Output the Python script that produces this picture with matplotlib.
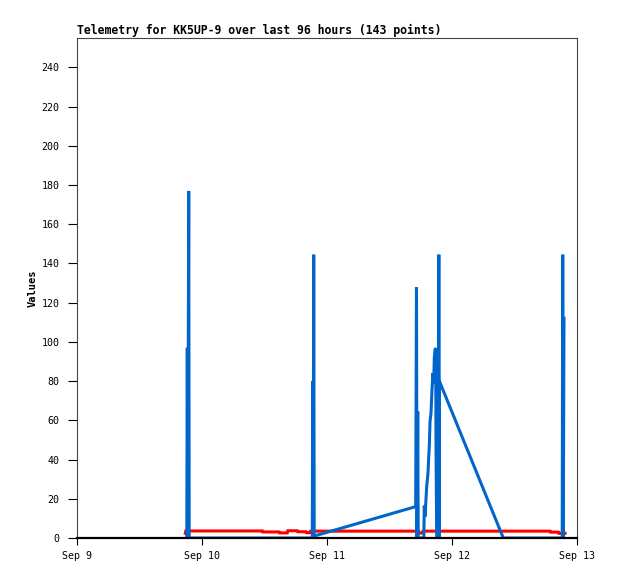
import datetime as dt
import matplotlib
matplotlib.use("Agg")
import matplotlib.pyplot as plt
import matplotlib.dates as mdates

# hours after Sep 9 00:00 and the values
start = dt.datetime(2023, 9, 9)

blue_hours = [21.08, 21.18, 21.27, 21.45, 21.54,
              45.18, 45.25, 45.35, 45.45, 45.54,
              65.03, 65.18, 65.28, 65.42, 65.51,
              66.59, 66.68, 66.82, 67.14, 67.39, 67.53, 67.64, 67.78, 67.97,
              68.16, 68.35, 68.49, 68.60, 68.74, 68.87, 68.93, 69.06,
              69.41, 69.47, 69.52, 69.58, 81.85,
              93.16, 93.26, 93.37, 93.50]
blue_vals = [0, 97, 0, 177, 0,
             0, 80, 0, 144.5, 1,
             16, 128, 0, 64.5, 0,
             0, 16.5, 10.9, 26.2, 33, 41.5, 46.6, 59.4, 63.7,
             75.6, 84.1, 79, 91.8, 96, 96.9, 48.4, 0,
             0, 144.5, 0, 80, 0,
             0, 144.5, 0, 112]

red_hours = [20.79, 20.89, 35.58, 35.67, 38.78, 38.88, 40.38, 40.47, 42.30,
             42.40, 43.97, 44.06, 44.74, 44.83, 65.60, 65.66, 66.40, 66.46,
             90.82, 90.91, 92.41, 92.50, 93.70]
red_vals = [2.4, 3.6, 3.6, 3.1, 3.1, 2.6, 2.6, 3.7, 3.7,
            3.2, 3.2, 2.7, 2.7, 3.5, 3.5, 2.4, 2.6, 3.5,
            3.5, 3.0, 3.0, 2.4, 2.4]

blue_t = [start + dt.timedelta(hours=h) for h in blue_hours]
red_t = [start + dt.timedelta(hours=h) for h in red_hours]

mono = "DejaVu Sans Mono"

fig = plt.figure(figsize=(6.18, 5.79), dpi=100)
ax = fig.add_axes([77 / 618, 41 / 579, 500 / 618, 500 / 579])

ax.plot(red_t, red_vals, color="#ff0000", lw=2.2, solid_joinstyle="miter")
ax.plot(blue_t, blue_vals, color="#0066cc", lw=2.2, solid_joinstyle="miter")

ax.set_xlim(start, start + dt.timedelta(days=4))
ax.set_ylim(0, 255)
ax.set_yticks(range(0, 241, 20))
ax.xaxis.set_major_locator(mdates.DayLocator())
ax.xaxis.set_major_formatter(mdates.DateFormatter("%b %-d"))

for s in ["left", "top", "right"]:
    ax.spines[s].set_color("#444444")
    ax.spines[s].set_linewidth(0.8)
ax.spines["bottom"].set_color("black")
ax.spines["bottom"].set_linewidth(1.6)

ax.tick_params(axis="y", direction="out", length=6.5, width=0.8, pad=6)
ax.tick_params(axis="x", direction="out", length=5, width=0.8, pad=4.5)
for lab in ax.get_xticklabels() + ax.get_yticklabels():
    lab.set_fontfamily(mono)
    lab.set_fontsize(7.2)

ax.set_title("Telemetry for KK5UP-9 over last 96 hours (143 points)",
             loc="left", fontfamily=mono, fontweight="bold", fontsize=8.3, pad=3)
ax.set_ylabel("Values", fontfamily=mono, fontweight="bold", fontsize=7.5)
ax.yaxis.set_label_coords(-0.078, 0.5)

fig.savefig("out.png", dpi=100)
